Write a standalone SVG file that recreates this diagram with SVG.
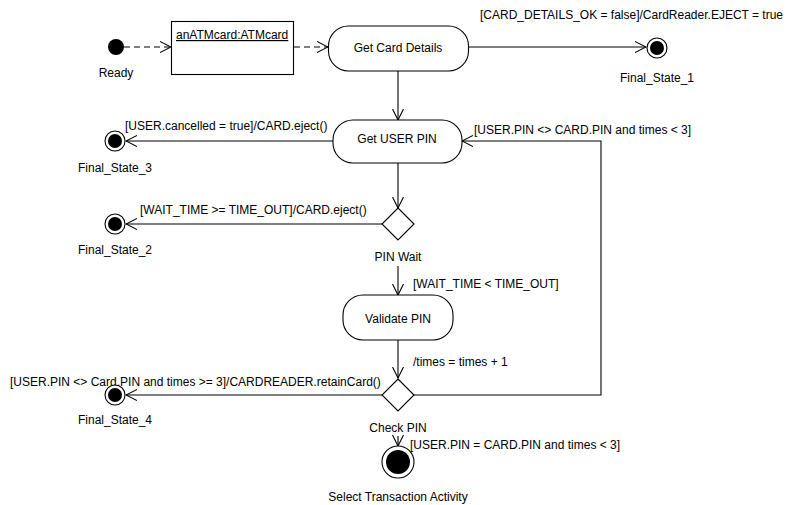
<svg xmlns="http://www.w3.org/2000/svg" width="792" height="505" viewBox="0 0 792 505">
<style>
text{font-family:"Liberation Sans",Arial,sans-serif;font-size:12px;fill:#000}
.c{text-anchor:middle}
.st{fill:#fff;stroke:#000;stroke-width:1.1}
.ln{fill:none;stroke:#000;stroke-width:1.1;marker-end:url(#a)}
.dl{fill:none;stroke:#000;stroke-width:1.1;stroke-dasharray:6,4;marker-end:url(#a)}
</style>
<defs>
<marker id="a" markerWidth="12" markerHeight="12" refX="11" refY="6" orient="auto" markerUnits="userSpaceOnUse">
<path d="M0,0.5 L11,6 L0,11.5" fill="none" stroke="#000" stroke-width="1.1"/>
</marker>
</defs>
<rect width="792" height="505" fill="#fff"/>
<g id="connectors">
<path class="dl" d="M124,47 H171"/>
<path class="dl" d="M294,47 H328"/>
<path class="ln" d="M468,47 H646"/>
<path class="ln" d="M398,71 V120"/>
<path class="ln" d="M333,141 H126"/>
<path class="ln" d="M398,163 V208"/>
<path class="ln" d="M382,224 H126"/>
<path class="ln" d="M398,266 V295"/>
<path class="ln" d="M398,340 V378"/>
<path class="ln" d="M382,395 H126"/>
<path class="ln" d="M414,395 H601 V141 H462"/>
<path class="ln" d="M398,436 V446"/>
<text x="480" y="19">[CARD_DETAILS_OK = false]/CardReader.EJECT = true</text>
<text x="125" y="130">[USER.cancelled = true]/CARD.eject()</text>
<text x="474" y="134">[USER.PIN &lt;&gt; CARD.PIN and times &lt; 3]</text>
<text x="140" y="214">[WAIT_TIME &gt;= TIME_OUT]/CARD.eject()</text>
<text x="413" y="288">[WAIT_TIME &lt; TIME_OUT]</text>
<text x="413" y="366">/times = times + 1</text>
<text x="10" y="386">[USER.PIN &lt;&gt; Card.PIN and times &gt;= 3]/CARDREADER.retainCard()</text>
<text x="410" y="449">[USER.PIN = CARD.PIN and times &lt; 3]</text>
</g>
<g id="ready">
<circle cx="116" cy="47" r="8" fill="#000"/>
<text class="c" x="116" y="77">Ready</text>
</g>
<g id="atmcard">
<rect class="st" x="171.5" y="21.5" width="122" height="53"/>
<text x="176" y="39" text-decoration="underline">anATMcard:ATMcard</text>
</g>
<g id="getCardDetails">
<rect class="st" x="328.5" y="26" width="140" height="45" rx="20" ry="20"/>
<text class="c" x="398" y="52">Get Card Details</text>
</g>
<g id="final1">
<circle cx="657" cy="48" r="10" fill="#fff" stroke="#000" stroke-width="1.1"/>
<circle cx="657" cy="48" r="7" fill="#000"/>
<text class="c" x="657" y="82">Final_State_1</text>
</g>
<g id="getUserPin">
<rect class="st" x="333" y="120" width="129" height="43" rx="20" ry="20"/>
<text class="c" x="397" y="143">Get USER PIN</text>
</g>
<g id="final3">
<circle cx="115" cy="141" r="10" fill="#fff" stroke="#000" stroke-width="1.1"/>
<circle cx="115" cy="141" r="7" fill="#000"/>
<text class="c" x="115" y="172">Final_State_3</text>
</g>
<g id="pinWait">
<path class="st" d="M398,208 L414,224 L398,240 L382,224 Z"/>
<text class="c" x="398" y="261">PIN Wait</text>
</g>
<g id="final2">
<circle cx="115" cy="224" r="10" fill="#fff" stroke="#000" stroke-width="1.1"/>
<circle cx="115" cy="224" r="7" fill="#000"/>
<text class="c" x="115" y="254">Final_State_2</text>
</g>
<g id="validatePin">
<rect class="st" x="343" y="295" width="110" height="45" rx="20" ry="20"/>
<text class="c" x="398" y="323">Validate PIN</text>
</g>
<g id="checkPin">
<path class="st" d="M398,379 L414,395 L398,411 L382,395 Z"/>
<text class="c" x="398" y="432">Check PIN</text>
</g>
<g id="final4">
<circle cx="115" cy="395" r="10" fill="#fff" stroke="#000" stroke-width="1.1"/>
<circle cx="115" cy="395" r="7" fill="#000"/>
<text class="c" x="115" y="424">Final_State_4</text>
</g>
<g id="selectTransaction">
<circle cx="398" cy="462" r="16" fill="#fff" stroke="#000" stroke-width="1.1"/>
<circle cx="398" cy="462" r="12" fill="#000"/>
<text class="c" x="398" y="501">Select Transaction Activity</text>
</g>
</svg>
